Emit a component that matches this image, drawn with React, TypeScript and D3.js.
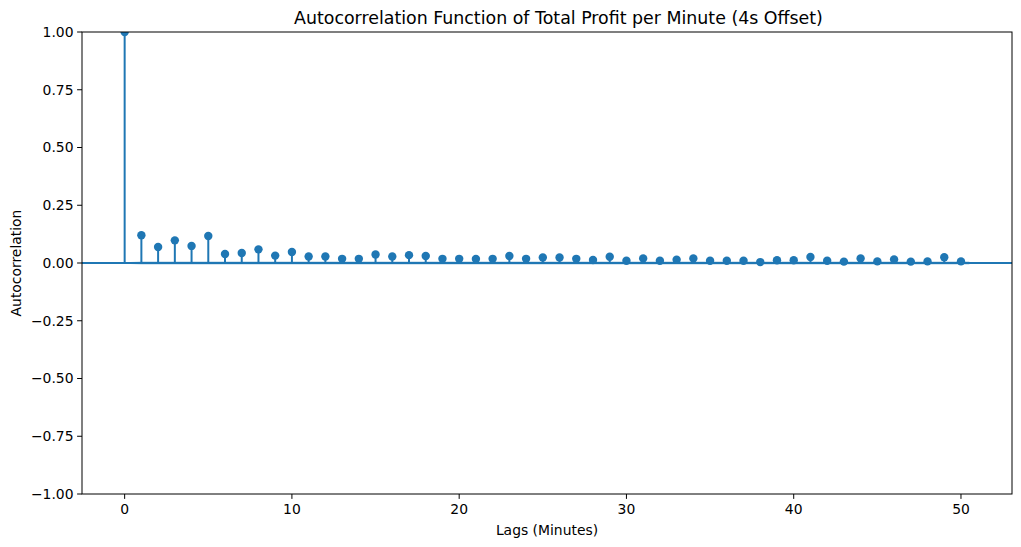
import React from "react";
import * as d3 from "d3";

const lags: number[] = Array.from({ length: 51 }, (_, i) => i);
const acfValues: number[] = [
  1.0, 0.12, 0.069, 0.098, 0.074, 0.117, 0.039, 0.043, 0.059, 0.032,
  0.048, 0.028, 0.028, 0.018, 0.018, 0.037, 0.028, 0.034, 0.03, 0.018,
  0.018, 0.017, 0.018, 0.03, 0.018, 0.024, 0.024, 0.018, 0.013, 0.027,
  0.01, 0.02, 0.01, 0.014, 0.02, 0.01, 0.01, 0.01, 0.004, 0.012,
  0.012, 0.026, 0.01, 0.006, 0.02, 0.007, 0.015, 0.006, 0.007, 0.025,
  0.007,
];
const confHalfWidth: number[] = lags.map((l) => (l === 0 ? 0 : 0.008));
const yTicks: number[] = [-1, -0.75, -0.5, -0.25, 0, 0.25, 0.5, 0.75, 1];
const xTicks: number[] = [0, 10, 20, 30, 40, 50];
const title = "Autocorrelation Function of Total Profit per Minute (4s Offset)";
const xLabel = "Lags (Minutes)";
const yLabel = "Autocorrelation";

const W = 1021;
const H = 547;
const left = 82;
const right = 1012;
const top = 32;
const bottom = 494;
const C0 = "#1f77b4";
const font = "DejaVu Sans, sans-serif";

export default function App() {
  const x = d3.scaleLinear().domain([-2.55, 53.05]).range([left, right]);
  const y = d3.scaleLinear().domain([-1, 1]).range([bottom, top]);

  const bandLags = lags.map((l, i) =>
    i === 0 ? l - 0.5 : i === lags.length - 1 ? l + 0.5 : l
  );
  const area = d3
    .area<number>()
    .x((_, i) => x(bandLags[i]))
    .y0((_, i) => y(-confHalfWidth[i]))
    .y1((_, i) => y(confHalfWidth[i]));

  return (
    <svg
      width={W}
      height={H}
      style={{ position: "absolute", left: 0, top: 0, background: "#fff" }}
      fontFamily={font}
    >
      <rect x={0} y={0} width={W} height={H} fill="#fff" />
      <defs>
        <clipPath id="plotclip">
          <rect x={left} y={top} width={right - left} height={bottom - top} />
        </clipPath>
      </defs>
      <g clipPath="url(#plotclip)">
        <path d={area(lags) || ""} fill={C0} opacity={0.25} />
        <line x1={left} x2={right} y1={y(0)} y2={y(0)} stroke={C0} strokeWidth={2} />
        {lags.map((l, i) => (
          <line
            key={"s" + l}
            x1={x(l)}
            x2={x(l)}
            y1={y(0)}
            y2={y(acfValues[i])}
            stroke={C0}
            strokeWidth={2}
          />
        ))}
        {lags.map((l, i) => (
          <circle key={"c" + l} cx={x(l)} cy={y(acfValues[i])} r={4.2} fill={C0} />
        ))}
      </g>
      <rect
        x={left}
        y={top}
        width={right - left}
        height={bottom - top}
        fill="none"
        stroke="#000"
        strokeWidth={1}
      />
      {yTicks.map((t) => (
        <g key={"y" + t}>
          <line x1={left - 4.9} x2={left} y1={y(t)} y2={y(t)} stroke="#000" strokeWidth={1} />
          <text
            x={left - 8.5}
            y={y(t)}
            dy="0.35em"
            textAnchor="end"
            fontSize={13.9}
            fill="#000"
          >
            {t < 0 ? "\u2212" + Math.abs(t).toFixed(2) : t.toFixed(2)}
          </text>
        </g>
      ))}
      {xTicks.map((t) => (
        <g key={"x" + t}>
          <line x1={x(t)} x2={x(t)} y1={bottom} y2={bottom + 4.9} stroke="#000" strokeWidth={1} />
          <text x={x(t)} y={bottom + 20} textAnchor="middle" fontSize={13.9} fill="#000">
            {t}
          </text>
        </g>
      ))}
      <text x={294} y={top - 8} textAnchor="start" fontSize={17.4} fill="#000">
        {title}
      </text>
      <text x={(left + right) / 2} y={535} textAnchor="middle" fontSize={13.9} fill="#000">
        {xLabel}
      </text>
      <text
        transform={`translate(21, ${(top + bottom) / 2}) rotate(-90)`}
        textAnchor="middle"
        fontSize={13.9}
        fill="#000"
      >
        {yLabel}
      </text>
    </svg>
  );
}
